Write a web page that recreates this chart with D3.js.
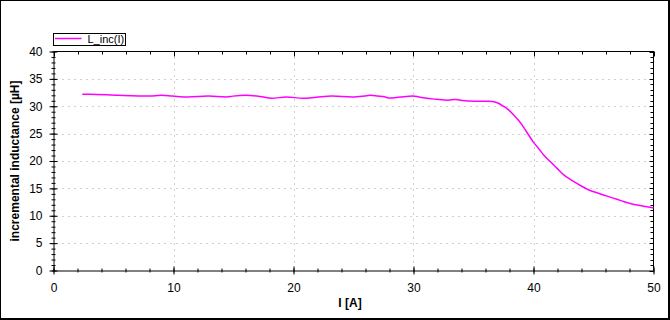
<!DOCTYPE html>
<html><head><meta charset="utf-8">
<script src="https://cdn.jsdelivr.net/npm/d3@7"></script>
<style>
html,body{margin:0;padding:0;background:#fff;}
svg{display:block;}
text{font-family:"Liberation Sans",Arial,sans-serif;}
</style></head>
<body><svg id="chart" width="670" height="320"></svg>
<script>
// Data
const currentA = [2.4, 3.0, 5.4, 8.0, 8.95, 9.9, 11.2, 12.9, 14.4, 14.95, 16.0, 17.2, 18.2, 19.4, 20.8, 21.9, 23.2, 24.9, 25.9, 26.4, 27.0, 27.65, 28.0, 28.9, 29.95, 30.45, 30.95, 31.9, 32.9, 33.45, 33.9, 35.3, 36.3,
  36.6, 37.08, 37.5, 37.92, 38.33, 38.75, 39.17, 39.58, 40.0, 40.42, 40.83, 41.39, 41.95, 42.5, 43.06, 43.62, 44.17, 44.73, 45.28, 45.83, 46.39, 46.95, 47.5, 48.06, 48.62, 49.17, 49.72, 50.0];
const inductance = [32.2, 32.2, 32.0, 31.87, 32.0, 31.87, 31.7, 31.87, 31.7, 31.85, 32.0, 31.8, 31.45, 31.7, 31.45, 31.65, 31.87, 31.7, 31.87, 32.0, 31.87, 31.7, 31.5, 31.7, 31.87, 31.7, 31.5, 31.27, 31.1, 31.25, 31.1, 30.92, 30.9,
  30.85, 30.55, 30.0, 29.35, 28.45, 27.45, 26.2, 24.8, 23.4, 22.3, 21.15, 19.9, 18.7, 17.5, 16.65, 15.9, 15.2, 14.6, 14.2, 13.8, 13.4, 13.0, 12.6, 12.25, 11.95, 11.75, 11.55, 11.4];
const xMajorTicks = [0, 10, 20, 30, 40, 50];
const xMinorTicks = d3.range(0, 50.001, 2);
const yMajorTicks = [0, 5, 10, 15, 20, 25, 30, 35, 40];
const yMinorTicks = d3.range(0, 40.001, 1);
const seriesName = "L_inc(I)";
const xLabel = "I [A]";
const yLabel = "incremental inductance [µH]";

const svg = d3.select("#chart");
// outer frame
svg.append("rect").attr("x",0).attr("y",0).attr("width",670).attr("height",320).attr("fill","#000");
svg.append("rect").attr("x",1).attr("y",1).attr("width",667).attr("height",317).attr("fill","#fff");

const L = 53.5, R = 653.5, T = 51.5, B = 270.5;
const x = d3.scaleLinear().domain([0,50]).range([L,R]);
const y = d3.scaleLinear().domain([0,40]).range([B,T]);

// grid
const grid = svg.append("g").attr("stroke","#a0a0a0").attr("stroke-width",1).attr("stroke-dasharray","1,5");
grid.selectAll("line.v").data(xMajorTicks.filter(d=>d>0&&d<50)).join("line")
  .attr("x1",d=>Math.round(x(d))+0.5).attr("x2",d=>Math.round(x(d))+0.5).attr("y1",B-2).attr("y2",T+1);
grid.selectAll("line.h").data(yMajorTicks.filter(d=>d>0&&d<40)).join("line")
  .attr("y1",d=>Math.round(y(d))+0.5).attr("y2",d=>Math.round(y(d))+0.5).attr("x1",L+3).attr("x2",R-1);

// frame lines top/right
svg.append("line").attr("x1",L).attr("x2",R+0.5).attr("y1",T).attr("y2",T).attr("stroke","#000");
svg.append("line").attr("x1",R).attr("x2",R).attr("y1",T).attr("y2",B).attr("stroke","#000");

// top/right inward ticks
const tk = svg.append("g").attr("stroke","#000").attr("stroke-width",1);
tk.selectAll("line.tt").data(xMinorTicks).join("line")
  .attr("x1",d=>Math.round(x(d))+0.5).attr("x2",d=>Math.round(x(d))+0.5)
  .attr("y1",T).attr("y2",d=>T + (xMajorTicks.includes(d)?5:3));
tk.selectAll("line.rt").data(yMinorTicks).join("line")
  .attr("y1",d=>Math.round(y(d))+0.5).attr("y2",d=>Math.round(y(d))+0.5)
  .attr("x1",R).attr("x2",d=>R - (yMajorTicks.includes(d)?4:3));

// bottom axis
function styleAxis(g){ g.select(".domain").attr("stroke","#000"); g.selectAll("text").attr("fill","#000").style("font-size","12px").style("font-family","'Liberation Sans',Arial,sans-serif"); }
const gxMinor = svg.append("g").attr("transform",`translate(0,${B})`)
  .call(d3.axisBottom(x).tickValues(xMinorTicks).tickSize(0).tickFormat(""));
gxMinor.select(".domain").remove();
gxMinor.selectAll(".tick line").attr("stroke","#000").attr("y1",-2).attr("y2",2);
const gx = svg.append("g").attr("transform",`translate(0,${B})`)
  .call(d3.axisBottom(x).tickValues(xMajorTicks).tickSizeOuter(0).tickPadding(7).tickFormat(d3.format("d")));
gx.selectAll(".tick line").attr("stroke","#000").attr("y1",-4).attr("y2",4);
styleAxis(gx);

// left axis
const gyMinor = svg.append("g").attr("transform",`translate(${L},0)`)
  .call(d3.axisLeft(y).tickValues(yMinorTicks).tickSize(0).tickFormat(""));
gyMinor.select(".domain").remove();
gyMinor.selectAll(".tick line").attr("stroke","#000").attr("x1",-2).attr("x2",2);
const gy = svg.append("g").attr("transform",`translate(${L},0)`)
  .call(d3.axisLeft(y).tickValues(yMajorTicks).tickSizeOuter(0).tickPadding(7).tickFormat(d3.format("d")));
gy.selectAll(".tick line").attr("stroke","#000").attr("x1",-4).attr("x2",4);
styleAxis(gy);
gy.selectAll("text").attr("x",-11);

// series
const pts = currentA.map((c,i)=>[c, inductance[i]]);
svg.append("path").datum(pts)
  .attr("fill","none").attr("stroke","#ff00ff").attr("stroke-width",1.5)
  .attr("d", d3.line().curve(d3.curveMonotoneX).x(d=>x(d[0])).y(d=>y(d[1])));

// axis labels
svg.append("text").attr("x",350).attr("y",307).attr("text-anchor","middle")
  .style("font-size","12px").style("font-weight","bold").text(xLabel);
svg.append("text").attr("transform","translate(19,161) rotate(-90)").attr("text-anchor","middle")
  .style("font-size","12px").style("font-weight","bold").text(yLabel);

// legend
const lg = svg.append("g");
lg.append("rect").attr("x",53.5).attr("y",33.5).attr("width",72).attr("height",12).attr("fill","#fff").attr("stroke","#000");
lg.append("line").attr("x1",55).attr("x2",81.5).attr("y1",38.5).attr("y2",38.5).attr("stroke","#ff00ff").attr("stroke-width",1.5);
lg.append("text").attr("x",87.5).attr("y",42.5).style("font-size","11px").attr("fill","#000").text(seriesName);
</script></body></html>
